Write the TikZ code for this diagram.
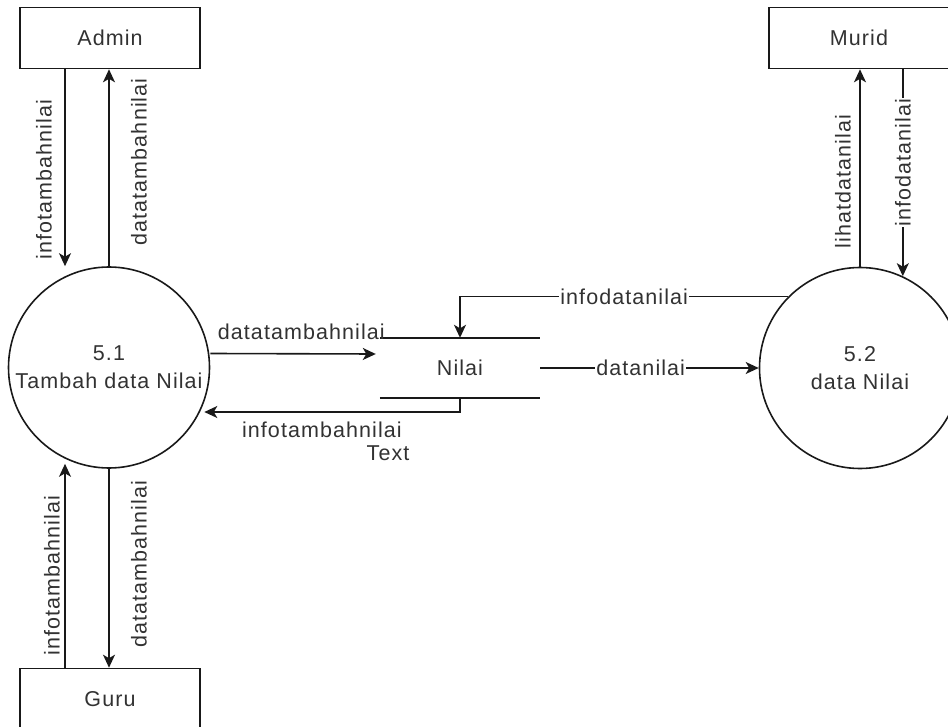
\documentclass[tikz,border=0pt]{standalone}
\usepackage{fontspec}
\setmainfont{Liberation Sans}[LetterSpace=5]
\usepackage{tikz}
\usetikzlibrary{arrows.meta,calc}
\definecolor{ink}{RGB}{50,50,50}
\definecolor{edge}{RGB}{25,25,25}

\begin{document}
\begin{tikzpicture}[x=1pt,y=-1pt,
    every node/.style={font=\fontsize{21.5}{28}\selectfont,text=ink},
    entity/.style={draw=edge,line width=1.6pt,minimum width=180pt,minimum height=61pt,inner sep=0pt},
    process/.style={draw=edge,line width=1.6pt,circle,minimum size=201pt,inner sep=0pt,align=center},
    storeline/.style={draw=edge,line width=1.6pt},
    flow/.style={draw=edge,line width=1.6pt,-{Stealth[length=13pt,width=12pt,inset=3.5pt]}},
    onlabel/.style={fill=white,inner sep=1pt}]
  \useasboundingbox (0,0) rectangle (948,727);
  \clip (0,0) rectangle (948,727);

  % external entities
  \node[entity] (admin) at (110,38) {Admin};
  \node[entity] (murid) at (859,38) {Murid};
  \node[entity] (guru) at (110,699) {Guru};

  % processes
  \node[process] (p51) at (109,367.5) {5.1\\Tambah data Nilai};
  \node[process] (p52) at (860,368) {5.2\\data Nilai};

  % data store
  \node[minimum width=160pt,minimum height=60pt,inner sep=0pt] (nilai) at (460,368) {Nilai};
  \draw[storeline] (nilai.north west) -- (nilai.north east)
                   (nilai.south west) -- (nilai.south east);
  \node (stray) at (388,453) {Text};

  % admin <-> 5.1
  \draw[flow] ([xshift=-45pt]admin.south) -- ([xshift=-44pt]p51.north)
      node[pos=0.56,xshift=-21pt,rotate=90] {infotambahnilai};
  \draw[flow] (p51.north) -- (p51.north |- admin.south)
      node[pos=0.53,xshift=30pt,rotate=90] {datatambahnilai};

  % guru <-> 5.1
  \draw[flow] ([xshift=-45pt]guru.north) -- ([xshift=-44pt,yshift=5pt]p51.south)
      node[pos=0.45,xshift=-13pt,rotate=90] {infotambahnilai};
  \draw[flow] (p51.south) -- (p51.south |- guru.north)
      node[pos=0.48,xshift=30pt,rotate=90] {datatambahnilai};

  % 5.1 <-> nilai
  \draw[flow] ([yshift=14pt]p51.east) -- ([xshift=-4pt,yshift=14pt]nilai.west)
      node[pos=0.55,yshift=22pt] {datatambahnilai};
  \draw[flow] (nilai.south) |- ($(p51.east)+(-6,44.5)$)
      node[pos=0.77,yshift=-18pt] {infotambahnilai};

  % nilai <-> 5.2
  \draw[flow] (p52.135) -| (nilai.north) node[pos=0.25,onlabel] {infodatanilai};
  \draw[flow] (nilai.east) -- (p52.west) node[pos=0.46,onlabel] {datanilai};

  % murid <-> 5.2
  \draw[flow] (p52.north) -- (p52.north |- murid.south)
      node[pos=0.43,xshift=-17pt,rotate=90] {lihatdatanilai};
  \draw[flow] (murid.south -| p52.65) -- (p52.65)
      node[pos=0.45,onlabel,rotate=90] {infodatanilai};
\end{tikzpicture}
\end{document}
